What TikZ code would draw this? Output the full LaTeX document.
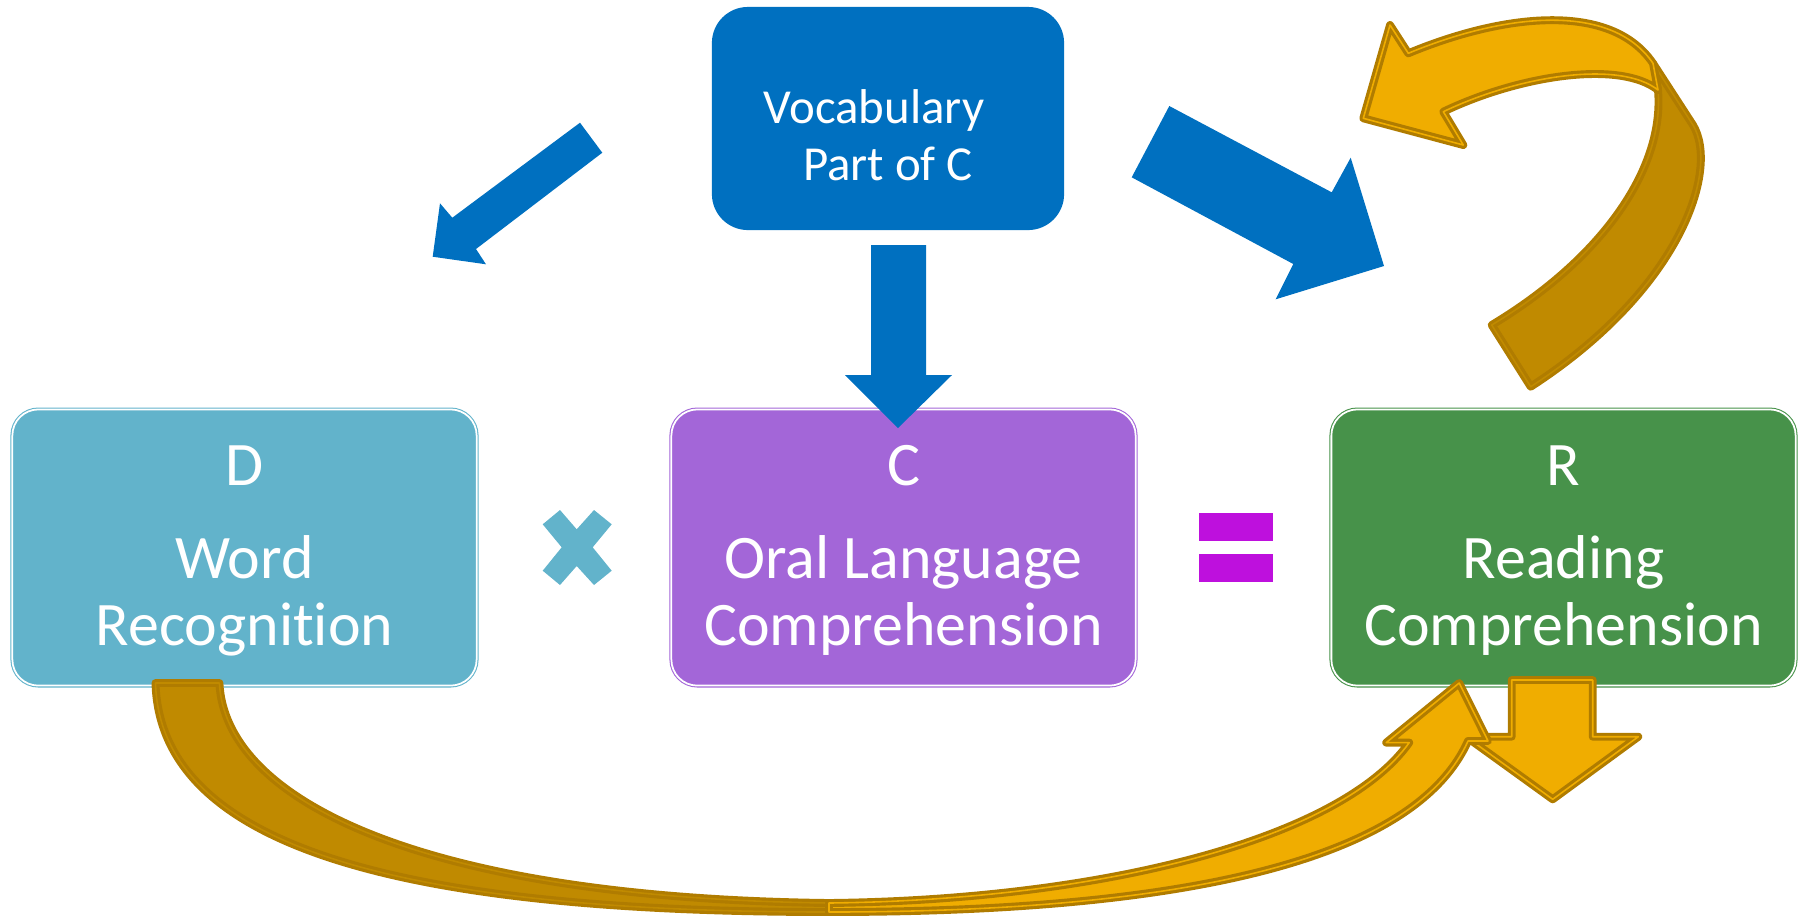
\documentclass[tikz,border=0pt]{standalone}
\usepackage{fontspec}
\setmainfont{Carlito}[Ligatures={NoCommon}]
\definecolor{cD}{HTML}{62B3CB}
\definecolor{cC}{HTML}{A366D8}
\definecolor{cR}{HTML}{47924A}
\definecolor{cB}{HTML}{0070C0}
\definecolor{cEq}{HTML}{BE10DD}
\definecolor{goldO}{HTML}{B07C00}
\definecolor{goldD}{HTML}{C08A00}
\definecolor{goldL}{HTML}{F0AD00}
\begin{document}
\begin{tikzpicture}[x=0.01cm,y=-0.01cm,
  box/.style={rectangle, rounded corners=0.26cm, minimum width=4.64cm, minimum height=2.76cm,
    inner sep=0pt, line width=0.3pt, double=white, double distance=0.5pt},
  vbox/.style={rectangle, rounded corners=0.36cm, minimum width=3.52cm, minimum height=2.23cm,
    inner sep=0pt, fill=cB},
  big/.style={text=white, inner sep=0pt, anchor=base, font=\fontsize{17.6}{20}\selectfont},
  small/.style={text=white, inner sep=0pt, anchor=base, font=\fontsize{13.9}{16}\selectfont},
  gdark/.style={fill=goldD, draw=goldO, double=goldD, double distance=0.45pt, line width=0.9pt, line join=round},
  glight/.style={fill=goldL, draw=goldO, double=goldL, double distance=0.45pt, line width=0.9pt, line join=round},
  blockarrow/.style={fill=cB}
]
\useasboundingbox (0,0) rectangle (1805,917);

% boxes
\node[box, fill=cD, draw=cD] (D) at (244.5,547.5) {};
\node[box, fill=cC, draw=cC] (C) at (903.5,547.5) {};
\node[box, fill=cR, draw=cR] (R) at (1563.5,547.5) {};
\node[vbox] (V) at (888,118.5) {};

% texts
\node[big] (Dl) at (244.5,485) {D};
\node[big] (Dw) at (244.5,578) {Word};
\node[big] (Dr) at (244.5,645) {Recognition};
\node[big] (Cl) at (903.5,485) {C};
\node[big] (Co) at (903.5,578) {Oral Language};
\node[big] (Cc) at (903.5,645) {Comprehension};
\node[big] (Rl) at (1563.5,485) {R};
\node[big] (Rr) at (1563.5,578) {Reading};
\node[big] (Rc) at (1563.5,645) {Comprehension};
\node[small] (V1) at (874,123) {Vocabulary};
\node[small] (V2) at (888,180) {Part of C};

% blue block arrows
\fill[blockarrow] (871,245) -- (926,245) -- (926,375) -- (952,375) -- (898,428) -- (845,375) -- (871,375) -- cycle;
\fill[blockarrow] (580,122.7) -- (602.3,152.7) -- (476,249) -- (486,264.3) -- (432.7,256.7) -- (440,203.3) -- (452.3,217.7) -- cycle;
\fill[blockarrow] (1169.3,106) -- (1331.7,192.3) -- (1350.7,157.7) -- (1384,266) -- (1275.7,299.3) -- (1293.3,264) -- (1131.7,177.3) -- cycle;

% multiply sign
\fill[cD] (542.7,524.3) -- (560,510) -- (576.7,529.3) -- (594,510) -- (611.7,524.3) -- (592.7,547.3)
  -- (611.7,570.7) -- (594,585) -- (576.7,566) -- (560,585) -- (542.7,570.7) -- (561.7,547.3) -- cycle;

% equal sign
\fill[cEq] (1199.3,513.3) rectangle (1272.7,540.7);
\fill[cEq] (1199.3,554.3) rectangle (1272.7,581.7);

% top-right curved arrow
\path[gdark] (1491.7,325) .. controls (1600,260) and (1665,170) .. (1658,90) -- (1653,63.3)
  -- (1693,125) .. controls (1720,170) and (1680,290) .. (1530.7,386.7) -- cycle;
\path[glight] (1653,63.3) .. controls (1610,0) and (1500,15) .. (1408.3,53.3) -- (1390,25)
  -- (1363.3,118.3) -- (1463.3,145) -- (1443.3,111.7) .. controls (1520,75) and (1620,60) .. (1658,90) -- cycle;

% gold down arrow under R
\path[glight] (1511.7,680) -- (1592.7,680) -- (1592.7,736.7) -- (1638.3,736.7) -- (1552.7,799.3)
  -- (1466,736.7) -- (1511.7,736.7) -- cycle;

% bottom curved arrow
\path[gdark] (155.5,683) .. controls (160,840) and (380,912) .. (829,912) -- (829,903)
  .. controls (420,898) and (225,800) .. (219.4,683) -- cycle;
\path[glight] (829,912) .. controls (1150,912) and (1410,870) .. (1468,741) -- (1488,741)
  -- (1459.2,683) -- (1386.2,742.6) -- (1409.2,742.6) .. controls (1340,840) and (1100,900) .. (829,903) -- cycle;
\end{tikzpicture}
\end{document}
